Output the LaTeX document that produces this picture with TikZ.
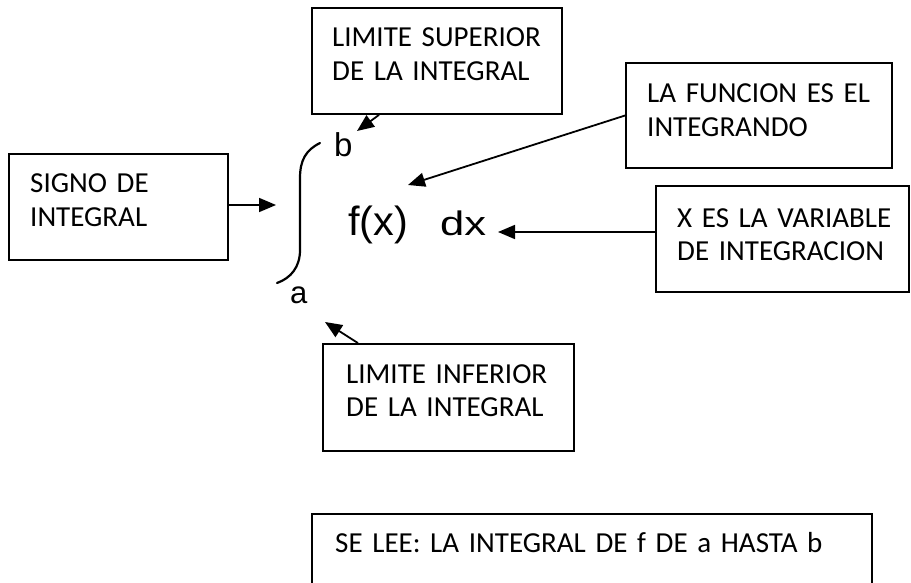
\documentclass[tikz,border=0pt]{standalone}
\usepackage{fontspec}
\usepackage{graphicx}
\setmainfont{Carlito}
\newfontfamily\symfont{Liberation Sans}
\usetikzlibrary{arrows.meta}

\begin{document}
\begin{tikzpicture}[x=1pt,y=-1pt,
  box/.style={draw, line width=1.8pt, rectangle, inner sep=0pt},
  lbl/.style={anchor=base west, inner sep=0pt, text width=560pt, align=left,
              font=\fontsize{29}{33.5}\selectfont},
  conn/.style={line width=1.8pt, -{Triangle[length=17pt,width=14pt]}},
  sym/.style={anchor=base west, inner sep=0pt}]
  \useasboundingbox (0,0) rectangle (911,583);
  \clip (0,0) rectangle (911,583);

  % label boxes
  \node[box, minimum width=250pt, minimum height=106pt] (sup)   at (437,61)    {};
  \node[box, minimum width=219pt, minimum height=106pt] (signo) at (118.5,207) {};
  \node[box, minimum width=266pt, minimum height=105pt] (func)  at (759,115.5) {};
  \node[box, minimum width=253pt, minimum height=106pt] (xes)   at (782.5,239) {};
  \node[box, minimum width=251pt, minimum height=107pt] (inf)   at (448.5,397.5) {};
  \node[box, minimum width=560pt, minimum height=106pt] (lee)   at (592,567)   {};

  % label texts
  \node[lbl] (supt)   at (332,47)  {LIMITE SUPERIOR\\DE LA INTEGRAL};
  \node[lbl] (signot) at (30,193)  {SIGNO DE\\INTEGRAL};
  \node[lbl] (funct)  at (647,103) {LA FUNCION ES EL\\INTEGRANDO};
  \node[lbl] (xest)   at (677,227) {X ES LA VARIABLE\\DE INTEGRACION};
  \node[lbl] (inft)   at (346,383) {LIMITE INFERIOR\\DE LA INTEGRAL};
  \node[lbl] (leet)   at (335,552) {SE LEE: LA INTEGRAL DE f DE a HASTA b};

  % the integral expression
  \draw[line width=2.2pt, line cap=round]
    (320,143) .. controls (306,150) and (300,160) .. (300,178)
    -- (300,250) .. controls (300,267) and (291,278) .. (277,283);
  \node[sym, font=\symfont\fontsize{33}{33}\selectfont] (b)  at (334,157) {b};
  \node[sym, font=\symfont\fontsize{31}{31}\selectfont] (a)  at (290,303) {a};
  \node[sym, font=\symfont\fontsize{34}{34}\selectfont] (fx) at (348,236) {\scalebox{1.22}[1.2]{f(x)}};
  \node[sym, font=\symfont\fontsize{34}{34}\selectfont] (dx) at (440,236) {\scalebox{1.28}[1]{dx}};

  % arrow tips
  \coordinate (intTip) at (276,205);
  \coordinate (bTip)   at (357,131);
  \coordinate (fxTip)  at (408,185);
  \coordinate (dxTip)  at (498,232);
  \coordinate (aTip)   at (325,322);

  % connectors
  \draw[conn] (signo.east |- intTip) -- (intTip);
  \draw[conn] ([xshift=-58pt]sup.south) -- (bTip);
  \draw[conn] (func.west) -- (fxTip);
  \draw[conn] (xes.west |- dxTip) -- (dxTip);
  \draw[conn] ([xshift=-90.5pt]inf.north) -- (aTip);
\end{tikzpicture}
\end{document}
